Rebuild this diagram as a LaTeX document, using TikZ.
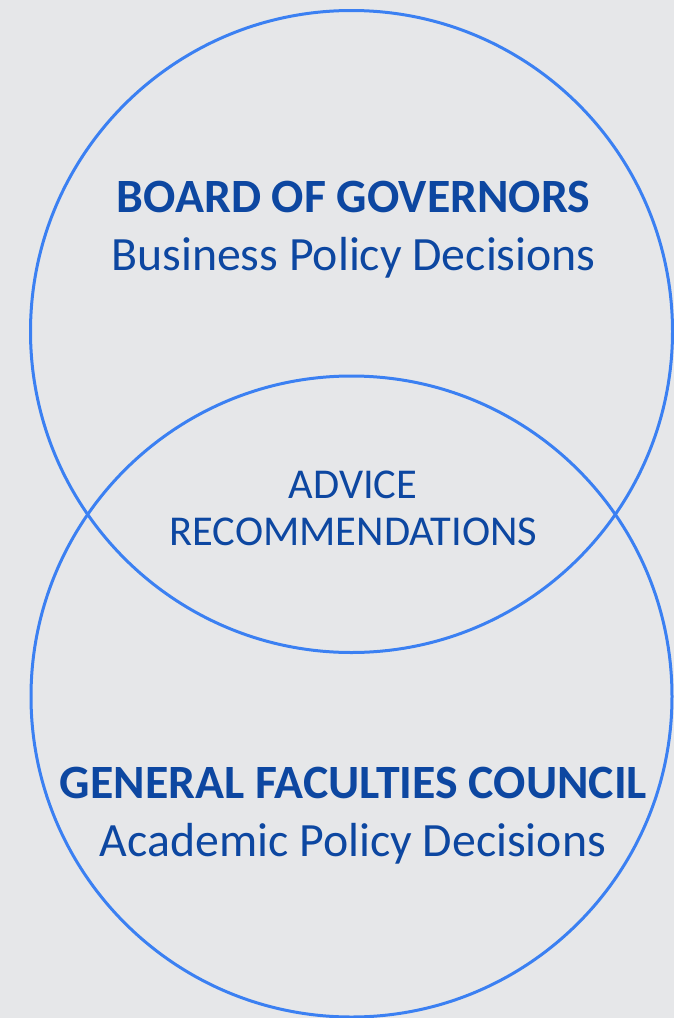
\documentclass[tikz,border=0pt]{standalone}
\usepackage{fontspec}
\setmainfont{Carlito}
\definecolor{bgc}{HTML}{E6E7E9}
\definecolor{ringc}{HTML}{3B80F2}
\definecolor{txtc}{HTML}{0D47A1}
\tikzset{
  ring/.style={draw=ringc, line width=3pt},
  head/.style={text=txtc, font=\fontsize{47.8}{48}\selectfont\bfseries, anchor=base, inner sep=0pt},
  sub/.style={text=txtc, font=\fontsize{47.8}{48}\selectfont, anchor=base, inner sep=0pt},
  mid/.style={text=txtc, font=\fontsize{42.5}{43}\selectfont, anchor=base, inner sep=0pt}
}
\begin{document}
\begin{tikzpicture}[x=1pt,y=-1pt]
\fill[bgc] (0,0) rectangle (674,1018);
\useasboundingbox (0,0) rectangle (674,1018);
\draw[ring] (351.5,331.5) circle[radius=321];
\draw[ring] (351.5,696.5) circle[radius=320.5];
\node[head] (bog) at (353.5,212) {BOARD OF GOVERNORS};
\node[sub] (bpd) at (353.5,270) {Business Policy Decisions};
\node[mid] (adv) at (353,498) {ADVICE};
\node[mid] (rec) at (353.5,545) {RECOMMENDATIONS};
\node[head] (gfc) at (353.5,798) {GENERAL FACULTIES COUNCIL};
\node[sub] (apd) at (353,856) {Academic Policy Decisions};
\end{tikzpicture}
\end{document}
